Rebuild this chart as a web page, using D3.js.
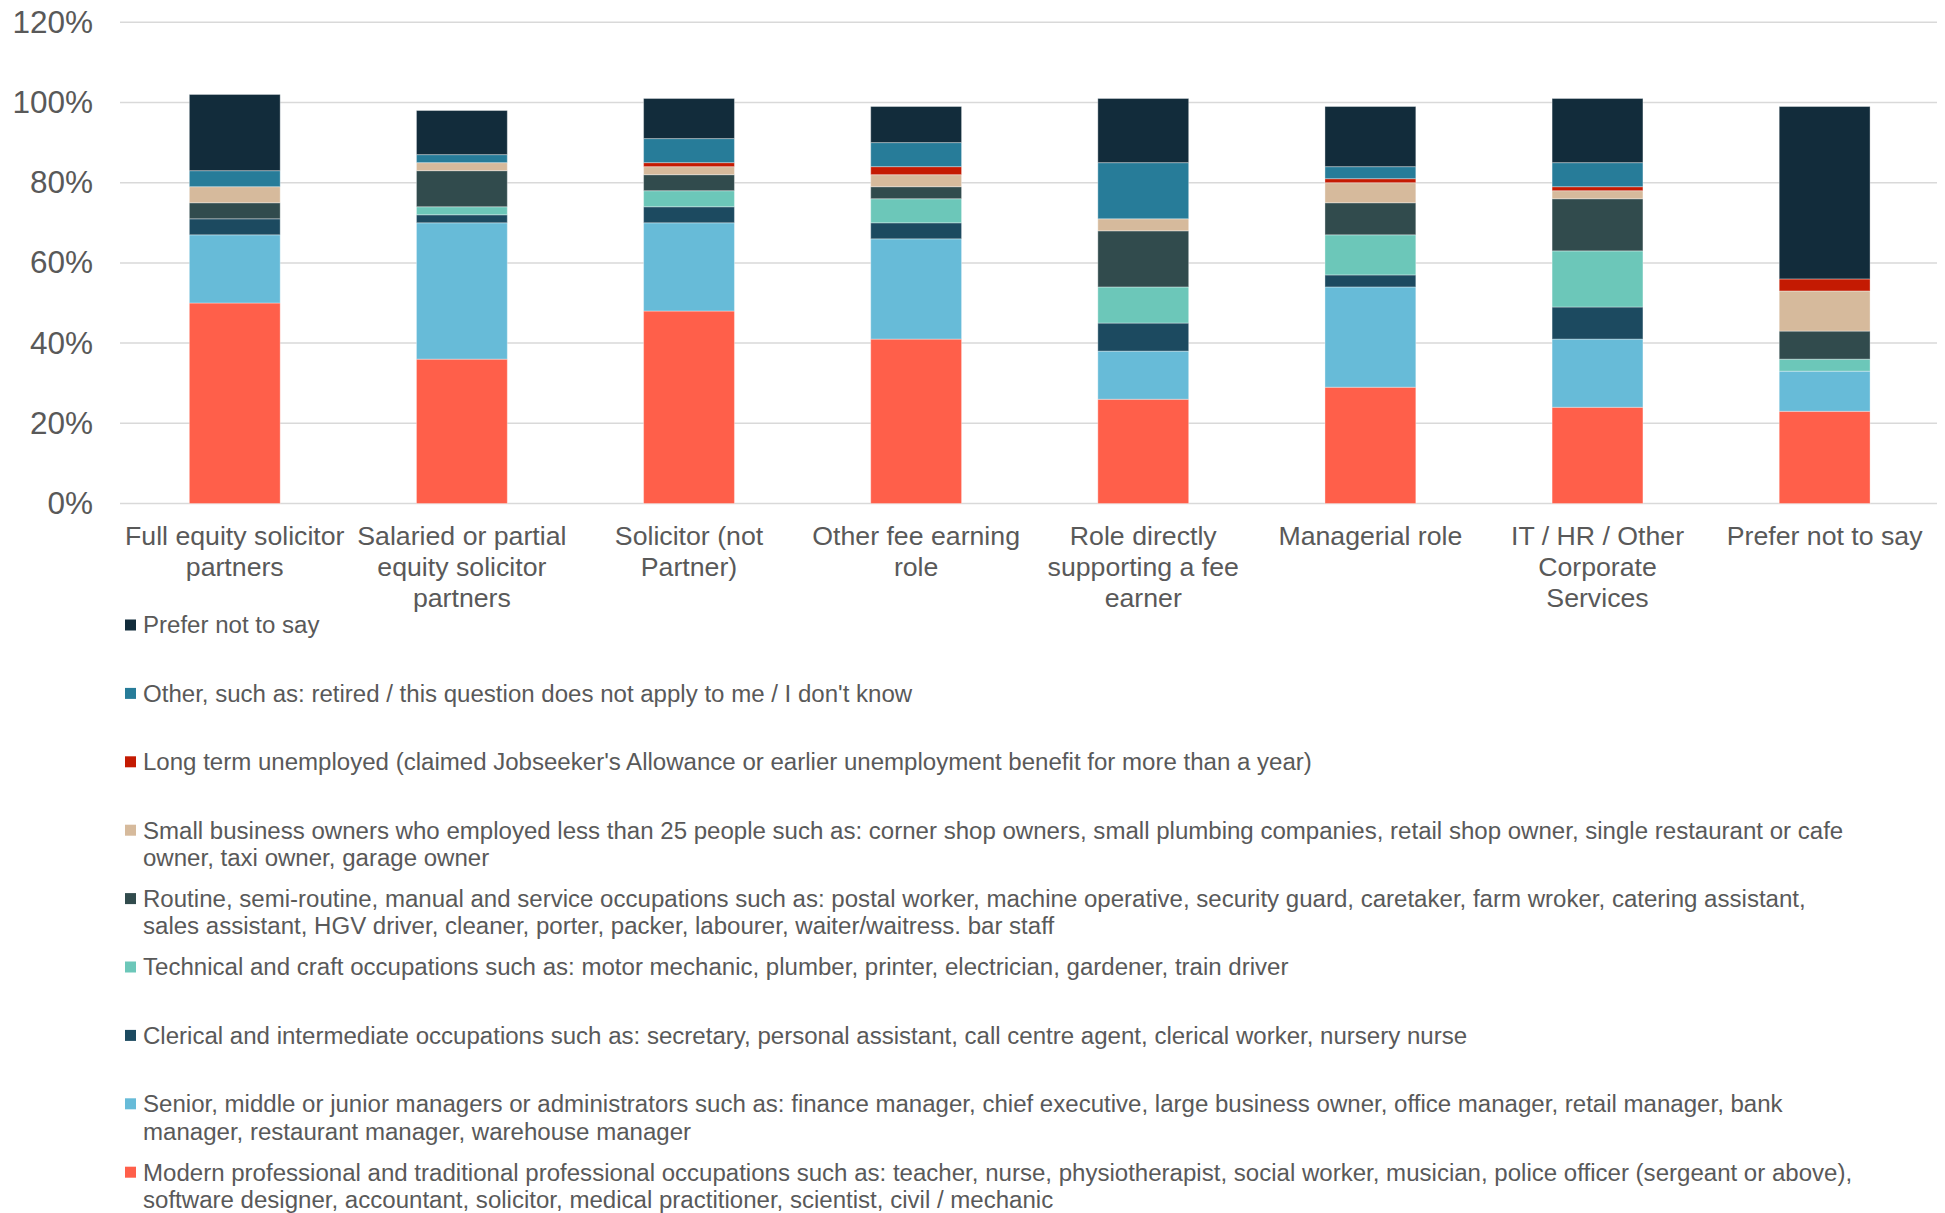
<!DOCTYPE html>
<html>
<head>
<meta charset="utf-8">
<script src="https://cdn.jsdelivr.net/npm/d3@7"></script>
<style>
  html, body { margin: 0; padding: 0; background: #fff; }
  svg { display: block; font-family: "Liberation Sans", Arial, sans-serif; }
</style>
</head>
<body>
<script>
// categories (x axis), each one is an array of wrapped lines
var categories = [
  ["Full equity solicitor", "partners"],
  ["Salaried or partial", "equity solicitor", "partners"],
  ["Solicitor (not", "Partner)"],
  ["Other fee earning", "role"],
  ["Role directly", "supporting a fee", "earner"],
  ["Managerial role"],
  ["IT / HR / Other", "Corporate", "Services"],
  ["Prefer not to say"]
];

// series values in %, bottom of the stack first
var modernProfessional = [50, 36, 48, 41, 26, 29, 24, 23];
var seniorManagers     = [17, 34, 22, 25, 12, 25, 17, 10];
var clerical           = [ 4,  2,  4,  4,  7,  3,  8,  0];
var technicalCraft     = [ 0,  2,  4,  6,  9, 10, 14,  3];
var routineManual      = [ 4,  9,  4,  3, 14,  8, 13,  7];
var smallBusiness      = [ 4,  2,  2,  3,  3,  5,  2, 10];
var longUnemployed     = [ 0,  0,  1,  2,  0,  1,  1,  3];
var otherRetired       = [ 4,  2,  6,  6, 14,  3,  6,  0];
var preferNotToSay     = [19, 11, 10,  9, 16, 15, 16, 43];

var yTicks = [0, 20, 40, 60, 80, 100, 120];

// legend labels (top entry first), with the reference's line breaks
var legendLabels = {
  prefer: ["Prefer not to say"],
  other: ["Other, such as: retired / this question does not apply to me / I don't know"],
  longterm: ["Long term unemployed (claimed Jobseeker's Allowance or earlier unemployment benefit for more than a year)"],
  small: ["Small business owners who employed less than 25 people such as: corner shop owners, small plumbing companies, retail shop owner, single restaurant or cafe",
          "owner, taxi owner, garage owner"],
  routine: ["Routine, semi-routine, manual and service occupations such as: postal worker, machine operative, security guard, caretaker, farm wroker, catering assistant,",
            "sales assistant, HGV driver, cleaner, porter, packer, labourer, waiter/waitress. bar staff"],
  technical: ["Technical and craft occupations such as: motor mechanic, plumber, printer, electrician, gardener, train driver"],
  clerical: ["Clerical and intermediate occupations such as: secretary, personal assistant, call centre agent, clerical worker, nursery nurse"],
  senior: ["Senior, middle or junior managers or administrators such as: finance manager, chief executive, large business owner, office manager, retail manager, bank",
           "manager, restaurant manager, warehouse manager"],
  modern: ["Modern professional and traditional professional occupations such as: teacher, nurse, physiotherapist, social worker, musician, police officer (sergeant or above),",
           "software designer, accountant, solicitor, medical practitioner, scientist, civil / mechanic"]
};

var series = [
  {key: "modern",    values: modernProfessional, color: "#FF5F4A"},
  {key: "senior",    values: seniorManagers,     color: "#67BBD8"},
  {key: "clerical",  values: clerical,           color: "#1C4A60"},
  {key: "technical", values: technicalCraft,     color: "#6CC7B9"},
  {key: "routine",   values: routineManual,      color: "#314B4D"},
  {key: "small",     values: smallBusiness,      color: "#D6BA9C"},
  {key: "longterm",  values: longUnemployed,     color: "#C41A02"},
  {key: "other",     values: otherRetired,       color: "#277C99"},
  {key: "prefer",    values: preferNotToSay,     color: "#122C3B"}
];

var width = 1945, height = 1213;
var textColor = "#595959";

var svg = d3.select("body").append("svg")
    .attr("width", width)
    .attr("height", height);

// build rows for d3.stack
var rows = categories.map(function(c, i) {
  var r = {idx: i};
  series.forEach(function(s) { r[s.key] = s.values[i]; });
  return r;
});

var x = d3.scaleBand()
    .domain(d3.range(categories.length))
    .range([121.2, 1938.2])
    .paddingInner(0.6)
    .paddingOuter(0.3);

var y = d3.scaleLinear()
    .domain([0, 120])
    .range([503.5, 22.3]);

// gridlines
svg.append("g")
  .selectAll("line")
  .data(yTicks)
  .enter().append("line")
    .attr("x1", 120)
    .attr("x2", 1937)
    .attr("y1", function(d) { return y(d); })
    .attr("y2", function(d) { return y(d); })
    .style("stroke", "#D9D9D9")
    .style("stroke-width", 1.5);

// y axis labels
var yAxis = d3.axisLeft(y)
    .tickValues(yTicks)
    .tickFormat(function(d) { return d + "%"; })
    .tickSize(0)
    .tickPadding(0);

svg.append("g")
    .attr("transform", "translate(93,0)")
    .call(yAxis)
    .call(function(g) { g.select(".domain").remove(); })
    .selectAll("text")
    .style("font-family", "'Liberation Sans', Arial, sans-serif")
    .style("font-size", "31.5px")
    .style("fill", textColor);

// stacked bars
var stack = d3.stack().keys(series.map(function(s) { return s.key; }));
var layers = stack(rows);

svg.append("g")
  .selectAll("g")
  .data(layers)
  .enter().append("g")
    .style("fill", function(d, i) { return series[i].color; })
  .selectAll("rect")
  .data(function(d) { return d; })
  .enter().append("rect")
    .filter(function(d) { return d[1] - d[0] > 0; })
    .attr("x", function(d) { return x(d.data.idx); })
    .attr("width", x.bandwidth())
    .attr("y", function(d) { return y(d[1]); })
    .attr("height", function(d) { return y(d[0]) - y(d[1]); })
    .style("stroke", "rgba(255,255,255,0.35)")
    .style("stroke-width", 1);

// category labels
var catLabels = svg.append("g")
  .selectAll("text")
  .data(categories)
  .enter().append("text")
    .attr("x", function(d, i) { return x(i) + x.bandwidth() / 2; })
    .attr("y", 536)
    .attr("text-anchor", "middle")
    .style("font-size", "26.7px")
    .style("fill", textColor);

catLabels.selectAll("tspan")
  .data(function(d) { return d; })
  .enter().append("tspan")
    .attr("x", function() { return this.parentNode.getAttribute("x"); })
    .attr("dy", function(d, i) { return i === 0 ? "0.35em" : 31; })
    .text(function(d) { return d; });

// legend, top entry is the last series
var legendOrder = series.slice().reverse();
var legend = svg.append("g")
  .selectAll("g")
  .data(legendOrder)
  .enter().append("g")
    .attr("transform", function(d, i) { return "translate(0," + (625 + i * 68.4) + ")"; });

legend.append("rect")
    .attr("x", 125)
    .attr("y", -5.5)
    .attr("width", 11)
    .attr("height", 11)
    .style("fill", function(d) { return d.color; });

legend.append("text")
    .attr("x", 143)
    .attr("y", 0)
    .style("font-size", "24.05px")
    .style("fill", textColor)
  .selectAll("tspan")
  .data(function(d) { return legendLabels[d.key]; })
  .enter().append("tspan")
    .attr("x", 143)
    .attr("dy", function(d, i) { return i === 0 ? "0.35em" : 27.4; })
    .text(function(d) { return d; });
</script>
</body>
</html>
